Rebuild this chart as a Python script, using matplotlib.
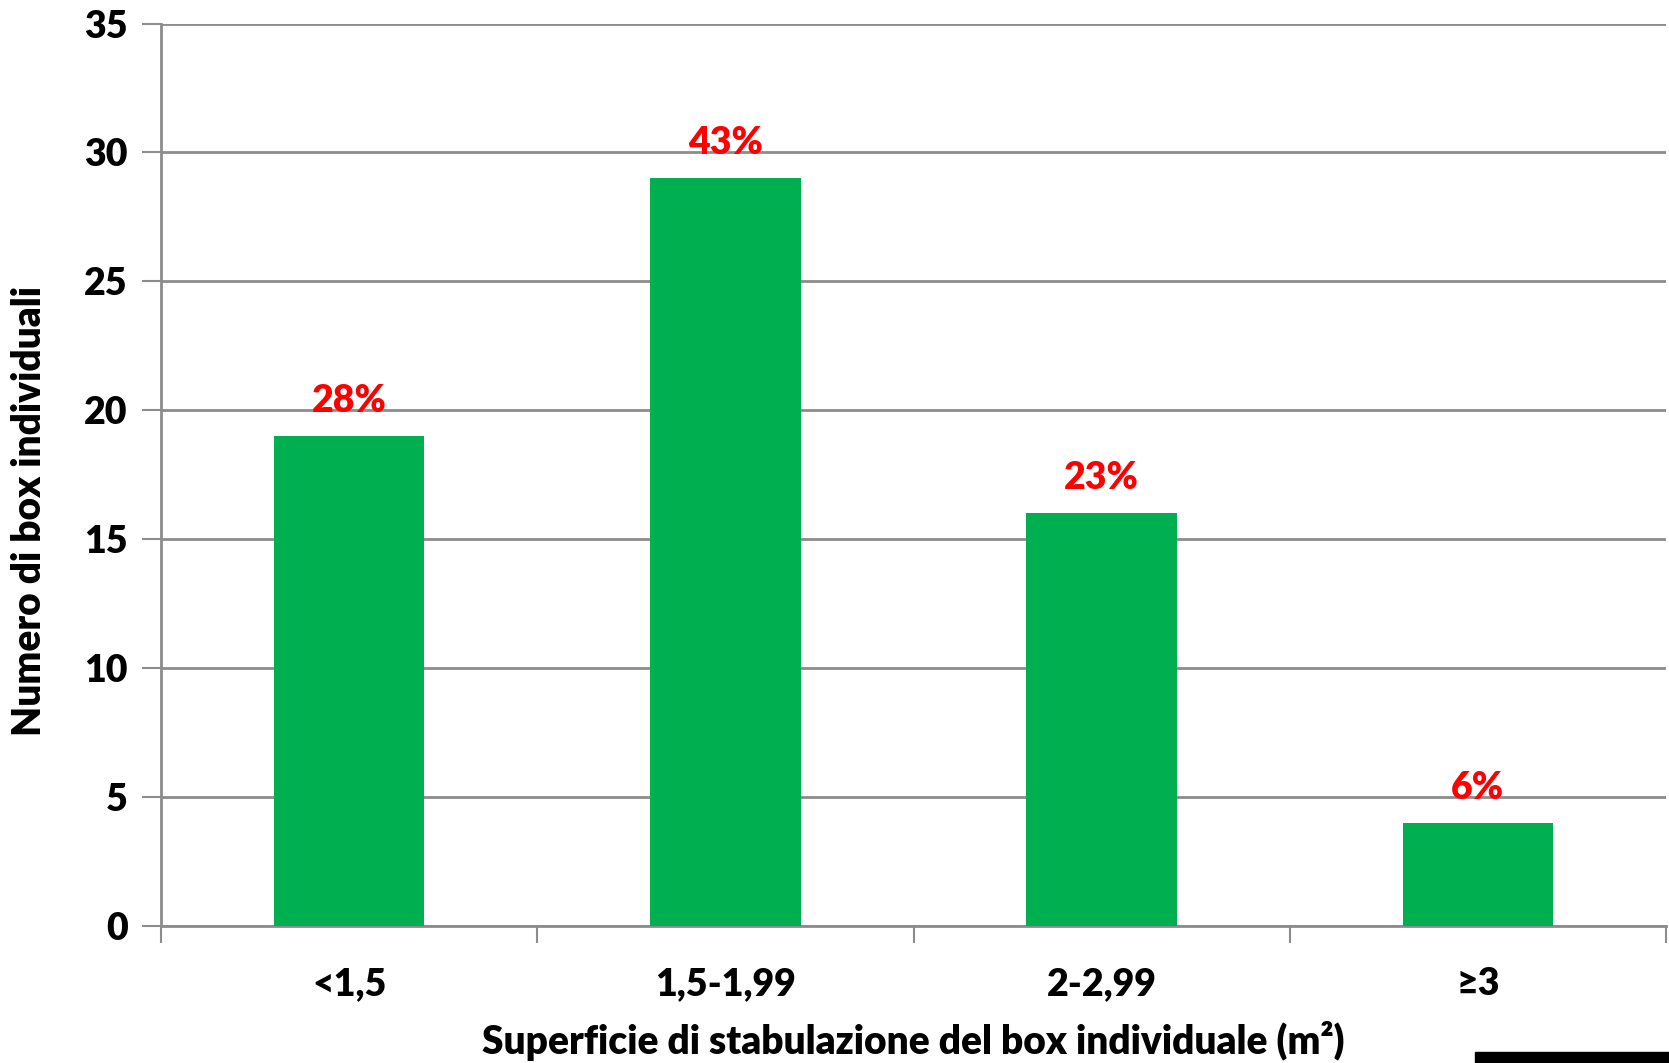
import numpy as np
import matplotlib.pyplot as plt
from matplotlib.patches import Rectangle

categories = ['<1,5', '1,5-1,99', '2-2,99', '≥3']
counts = [19, 29, 16, 4]
pct_labels = ['28%', '43%', '23%', '6%']
y_ticks = [0, 5, 10, 15, 20, 25, 30, 35]

GREEN = '#00B050'
GRID = '#8c8c8c'
FS = 27
WT = 'heavy'

plt.rcParams['font.family'] = ['Lato', 'DejaVu Sans']

fig = plt.figure(figsize=(16.69, 10.63), dpi=100)
W, H = 1669, 1063
left, right, top, bottom = 161, 1666, 23.5, 925.7
ax = fig.add_axes([left / W, 1 - bottom / H, (right - left) / W, (bottom - top) / H])

x = np.arange(len(categories))
ax.bar(x, counts, width=0.4, color=GREEN, zorder=3)

for xi, v, lab in zip(x, counts, pct_labels):
    ax.annotate(lab, (xi, v), xytext=(0, 13), textcoords='offset points',
                ha='center', va='bottom', color='red', fontsize=FS,
                fontweight=WT, zorder=4)

ax.set_xlim(-0.5, len(categories) - 0.5)
ax.set_ylim(0, 35)
ax.set_yticks(y_ticks)
ax.set_xticks(x)
ax.set_xticklabels(categories)
ax.set_xticks(np.arange(len(categories) + 1) - 0.5, minor=True)

ax.tick_params(axis='x', which='major', length=0, pad=30, labelsize=FS)
ax.tick_params(axis='x', which='minor', length=12, width=1.5, color=GRID)
ax.tick_params(axis='y', length=14, width=1.5, color=GRID, pad=10, labelsize=FS)
for lab in ax.get_xticklabels() + ax.get_yticklabels():
    lab.set_fontweight(WT)

ax.yaxis.grid(True, color=GRID, linewidth=2, zorder=0)
ax.set_axisbelow(True)
for s in ['top', 'right']:
    ax.spines[s].set_visible(False)
for s in ['left', 'bottom']:
    ax.spines[s].set_color(GRID)
    ax.spines[s].set_linewidth(2)

ax.set_xlabel('Superficie di stabulazione del box individuale (m²)',
              fontsize=28, fontweight=WT)
ax.xaxis.set_label_coords(0.5, -0.106)
ax.set_ylabel('Numero di box individuali', fontsize=28, fontweight=WT)
ax.yaxis.set_label_coords(-0.075, 0.46)

# black strip at bottom right of the slide
fig.patches.append(Rectangle((1475 / W, 0), (W - 1475) / W, 11 / H,
                             transform=fig.transFigure, color='black'))

fig.savefig('out.png', dpi=100)
